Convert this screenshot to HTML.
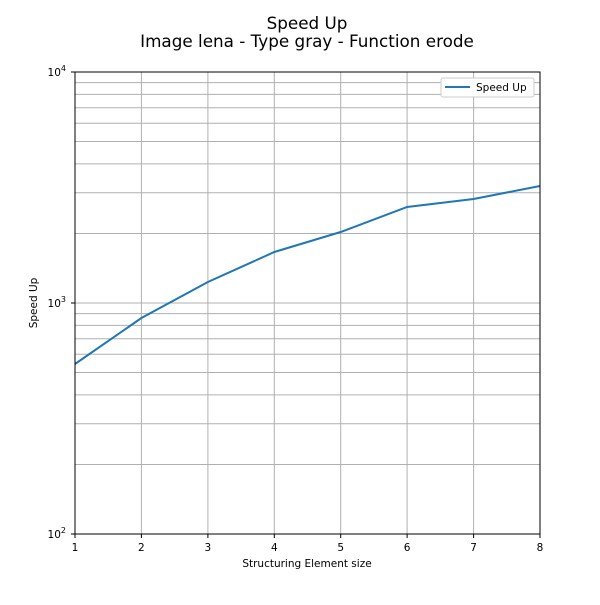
<!DOCTYPE html>
<html><head><meta charset="utf-8"><style>body{margin:0;background:#fff}</style></head><body>
<svg width="600" height="600" xmlns="http://www.w3.org/2000/svg" font-family="DejaVu Sans, Liberation Sans, sans-serif">
<rect width="600" height="600" fill="#fff"/>
<text x="307" y="29" font-size="16.8" text-anchor="middle">Speed Up</text>
<text x="307" y="47" font-size="16.8" text-anchor="middle">Image lena - Type gray - Function erode</text>
<g stroke="#b0b0b0" stroke-width="1">
<line x1="75" x2="540" y1="464.5" y2="464.5"/><line x1="75" x2="540" y1="423.8" y2="423.8"/><line x1="75" x2="540" y1="394.9" y2="394.9"/><line x1="75" x2="540" y1="372.5" y2="372.5"/><line x1="75" x2="540" y1="354.2" y2="354.2"/><line x1="75" x2="540" y1="338.8" y2="338.8"/><line x1="75" x2="540" y1="325.4" y2="325.4"/><line x1="75" x2="540" y1="313.6" y2="313.6"/><line x1="75" x2="540" y1="303" y2="303"/>
<line x1="75" x2="540" y1="233.5" y2="233.5"/><line x1="75" x2="540" y1="192.8" y2="192.8"/><line x1="75" x2="540" y1="163.9" y2="163.9"/><line x1="75" x2="540" y1="141.5" y2="141.5"/><line x1="75" x2="540" y1="123.2" y2="123.2"/><line x1="75" x2="540" y1="107.8" y2="107.8"/><line x1="75" x2="540" y1="94.4" y2="94.4"/><line x1="75" x2="540" y1="82.6" y2="82.6"/>
<line x1="141.4" x2="141.4" y1="72" y2="534"/><line x1="207.9" x2="207.9" y1="72" y2="534"/><line x1="274.3" x2="274.3" y1="72" y2="534"/><line x1="340.7" x2="340.7" y1="72" y2="534"/><line x1="407.1" x2="407.1" y1="72" y2="534"/><line x1="473.6" x2="473.6" y1="72" y2="534"/>
</g>
<polyline fill="none" stroke="#1f77b4" stroke-width="2" points="75,364 141.4,318 207.9,282 274.3,252 340.7,232 407.1,207 473.6,199 540,186"/>
<rect x="75" y="72" width="465" height="462" fill="none" stroke="#000" stroke-width="1"/>
<g stroke="#000">
<line x1="75" x2="75" y1="534" y2="538"/><line x1="141.4" x2="141.4" y1="534" y2="538"/><line x1="207.9" x2="207.9" y1="534" y2="538"/><line x1="274.3" x2="274.3" y1="534" y2="538"/><line x1="340.7" x2="340.7" y1="534" y2="538"/><line x1="407.1" x2="407.1" y1="534" y2="538"/><line x1="473.6" x2="473.6" y1="534" y2="538"/><line x1="540" x2="540" y1="534" y2="538"/>
<line x1="71" x2="75" y1="534" y2="534"/><line x1="71" x2="75" y1="303" y2="303"/><line x1="71" x2="75" y1="72" y2="72"/>
</g>
<g font-size="10.5" text-anchor="middle">
<text x="75" y="551">1</text><text x="141.4" y="551">2</text><text x="207.9" y="551">3</text><text x="274.3" y="551">4</text><text x="340.7" y="551">5</text><text x="407.1" y="551">6</text><text x="473.6" y="551">7</text><text x="540" y="551">8</text>
<text x="307" y="567">Structuring Element size</text>
</g>
<g font-size="10.5" text-anchor="end">
<text x="66" y="538">10<tspan font-size="8" dy="-5">2</tspan></text>
<text x="66" y="307">10<tspan font-size="8" dy="-5">3</tspan></text>
<text x="66" y="76">10<tspan font-size="8" dy="-5">4</tspan></text>
</g>
<text transform="translate(37,303) rotate(-90)" font-size="10.5" text-anchor="middle">Speed Up</text>
<rect x="441" y="78" width="93" height="19" fill="#fff" stroke="#ccc" rx="2"/>
<line x1="445" x2="470" y1="87" y2="87" stroke="#1f77b4" stroke-width="2"/>
<text x="476" y="91" font-size="10.5">Speed Up</text>
</svg>
</body></html>
